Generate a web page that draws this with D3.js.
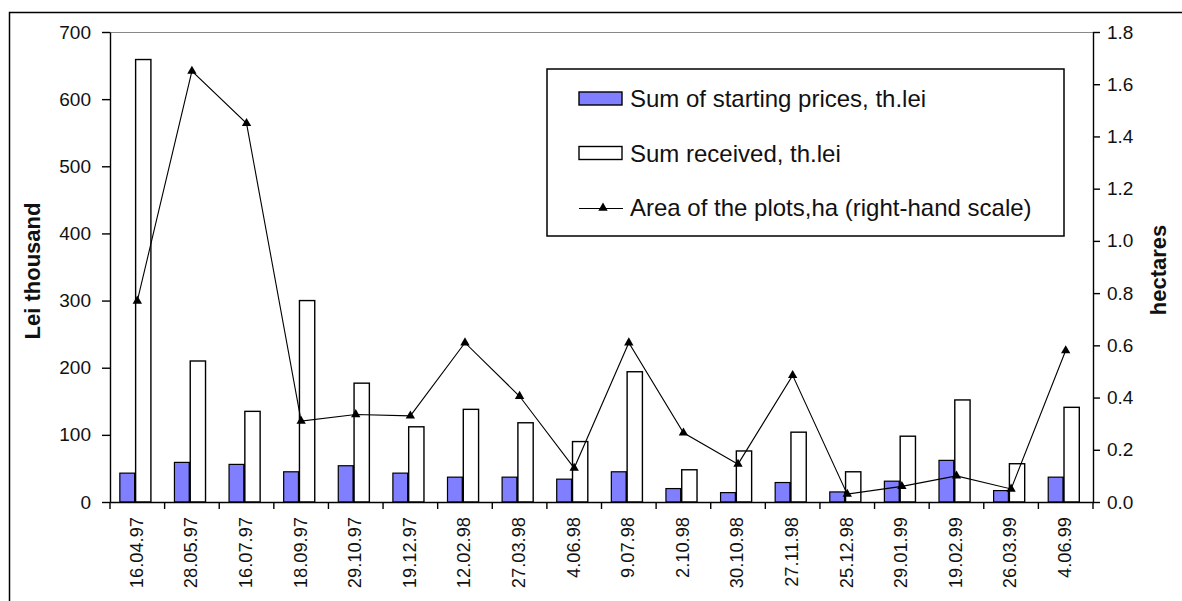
<!DOCTYPE html>
<html><head><meta charset="utf-8">
<script src="https://cdn.jsdelivr.net/npm/d3@7"></script>
<style>body{margin:0;background:#fff}svg{display:block}text{font-family:"Liberation Sans",Arial,sans-serif;fill:#111}</style>
</head><body><svg id="c" width="1182" height="601"></svg>
<script>
const categories = ["16.04.97","28.05.97","16.07.97","18.09.97","29.10.97","19.12.97","12.02.98","27.03.98","4.06.98","9.07.98","2.10.98","30.10.98","27.11.98","25.12.98","29.01.99","19.02.99","26.03.99","4.06.99"];
const startingPrices = [43,59,56,45,54,43,37,37,34,45,20,14,29,15,31,62,17,37];
const sumReceived = [659,210,135,300,177,112,138,118,90,194,48,76,104,45,98,152,57,141];
const areaHa = [0.77,1.65,1.45,0.31,0.335,0.33,0.61,0.405,0.13,0.61,0.265,0.145,0.485,0.03,0.06,0.10,0.05,0.58];
const leftTicks = [0,100,200,300,400,500,600,700];
const rightTicks = [0,0.2,0.4,0.6,0.8,1.0,1.2,1.4,1.6,1.8];
const legendLabels = ["Sum of starting prices, th.lei","Sum received, th.lei","Area of the plots,ha (right-hand scale)"];

const svg = d3.select("#c");
const L = 110, R = 1093, T = 32, B = 502;

svg.append("rect").attr("x",9.5).attr("y",12.5).attr("width",1200).attr("height",700)
  .attr("fill","#fff").attr("stroke","#000").attr("stroke-width",1.5);

const x = d3.scaleBand().domain(categories).range([L,R]).padding(0);
const yL = d3.scaleLinear().domain([0,700]).range([B,T]);
const yR = d3.scaleLinear().domain([0,1.8]).range([B,T]);
const bw = x.bandwidth();
const barW = bw*0.28, off = bw*0.18;

// plot-area top border (gray)
svg.append("line").attr("x1",L).attr("x2",R).attr("y1",T+0.5).attr("y2",T+0.5).attr("stroke","#888").attr("stroke-width",1.2);

// blue bars
const g = svg.append("g");
g.selectAll("rect.sp").data(categories).enter().append("rect").attr("class","sp")
  .attr("x",d=>x(d)+off).attr("width",barW)
  .attr("y",(d,i)=>yL(startingPrices[i])).attr("height",(d,i)=>B-yL(startingPrices[i]))
  .attr("fill","#7f7fff").attr("stroke","#000").attr("stroke-width",1.2);
g.selectAll("line.sh").data(categories).enter().append("line").attr("class","sh")
  .attr("x1",d=>x(d)+off+barW).attr("x2",d=>x(d)+off+barW)
  .attr("y1",(d,i)=>yL(startingPrices[i])).attr("y2",B)
  .attr("stroke","#000").attr("stroke-width",2.2);
// white bars
g.selectAll("rect.sr").data(categories).enter().append("rect").attr("class","sr")
  .attr("x",d=>x(d)+off+barW+0.5).attr("width",barW)
  .attr("y",(d,i)=>yL(sumReceived[i])).attr("height",(d,i)=>B-yL(sumReceived[i]))
  .attr("fill","#fff").attr("stroke","#000").attr("stroke-width",1.4);

// line
const line = d3.line().x((d,i)=>x(categories[i])+bw/2).y(d=>yR(d));
svg.append("path").datum(areaHa).attr("d",line).attr("fill","none").attr("stroke","#000").attr("stroke-width",1.1);
const tri = d3.symbol().type(d3.symbolTriangle).size(38);
svg.selectAll("path.mk").data(areaHa).enter().append("path").attr("class","mk")
  .attr("d",tri).attr("transform",(d,i)=>`translate(${x(categories[i])+bw/2},${yR(d)})`).attr("fill","#000");

// axes
const axL = svg.append("g").attr("transform",`translate(${L},0)`)
  .call(d3.axisLeft(yL).tickValues(leftTicks).tickSize(8).tickPadding(11).tickSizeOuter(0));
const axR = svg.append("g").attr("transform",`translate(${R},0)`)
  .call(d3.axisRight(yR).tickValues(rightTicks).tickFormat(d3.format(".1f")).tickSize(7).tickPadding(7).tickSizeOuter(0));
const axB = svg.append("g").attr("transform",`translate(0,${B})`)
  .call(d3.axisBottom(x).tickSize(0).tickPadding(0));
[axL,axR].forEach(a=>{a.selectAll("text").style("font-size","19px").attr("fill","#111");
  a.selectAll("line,path").attr("stroke","#000").attr("stroke-width",1.4);});
axB.select("path").attr("stroke","#000").attr("stroke-width",1.4);
axB.selectAll(".tick text").style("font-size","18.3px").attr("fill","#111")
  .attr("text-anchor","end").attr("transform","translate(-1,15) rotate(-90)").attr("dy","0.35em").attr("x",0).attr("y",0);
// boundary ticks on x axis
const bounds = categories.map(d=>x(d)).concat([R]);
svg.selectAll("line.bt").data(bounds).enter().append("line").attr("class","bt")
  .attr("x1",d=>d).attr("x2",d=>d).attr("y1",B).attr("y2",B+7).attr("stroke","#000").attr("stroke-width",1.4);

// axis titles
svg.append("text").attr("transform","translate(40,271) rotate(-90)").attr("text-anchor","middle")
  .style("font-size","22px").style("font-weight","bold").text("Lei thousand");
svg.append("text").attr("transform","translate(1166,270) rotate(-90)").attr("text-anchor","middle")
  .style("font-size","22px").style("font-weight","bold").text("hectares");

// legend
const lg = svg.append("g");
lg.append("rect").attr("x",547).attr("y",69).attr("width",517).attr("height",167).attr("fill","#fff").attr("stroke","#000").attr("stroke-width",1.5);
const rowsY = [98,153,207];
lg.append("rect").attr("x",579).attr("y",92).attr("width",43).attr("height",13).attr("fill","#7f7fff").attr("stroke","#000").attr("stroke-width",1.4);
lg.append("rect").attr("x",579).attr("y",146.5).attr("width",43).attr("height",13).attr("fill","#fff").attr("stroke","#000").attr("stroke-width",1.4);
lg.append("line").attr("x1",579).attr("x2",623).attr("y1",208.5).attr("y2",208.5).attr("stroke","#000").attr("stroke-width",1.2);
lg.append("path").attr("d",tri).attr("transform","translate(603,208)").attr("fill","#000");
lg.selectAll("text").data(legendLabels).enter().append("text")
  .attr("x",630).attr("y",(d,i)=>rowsY[i]+8.5).style("font-size","24px").text(d=>d);
</script></body></html>
